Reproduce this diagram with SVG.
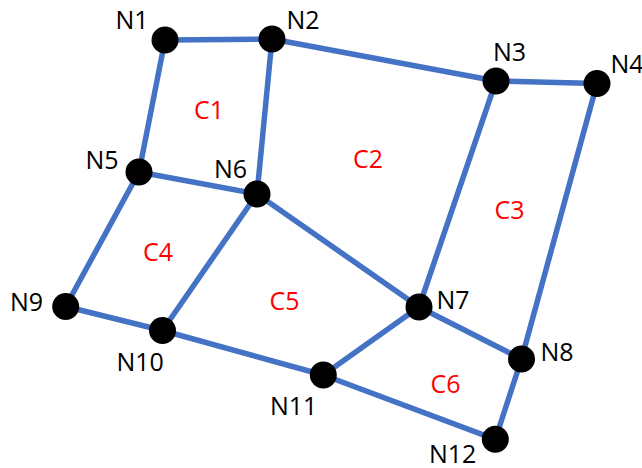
<svg xmlns="http://www.w3.org/2000/svg" width="642" height="468" viewBox="0 0 642 468">
<style>
.e{stroke:#4472C4;stroke-width:5.5;fill:none;stroke-linecap:round}
.n{fill:#000}
.t{font-family:"Open Sans","Liberation Sans",sans-serif;font-size:25px;fill:#000}
.c{font-family:"Open Sans","Liberation Sans",sans-serif;font-size:25px;fill:#FF0000}
</style>
<rect width="642" height="468" fill="#fff"/>
<g id="connectors">
<line class="e" x1="165" y1="40" x2="272" y2="39"/>
<line class="e" x1="272" y1="39" x2="496" y2="81"/>
<line class="e" x1="496" y1="81" x2="597" y2="83.5"/>
<line class="e" x1="165" y1="40" x2="139" y2="172"/>
<line class="e" x1="272" y1="39" x2="257" y2="194"/>
<line class="e" x1="139" y1="172" x2="257" y2="194"/>
<line class="e" x1="496" y1="81" x2="419" y2="307"/>
<line class="e" x1="597" y1="83.5" x2="521.5" y2="359"/>
<line class="e" x1="139" y1="172" x2="65.7" y2="306.5"/>
<line class="e" x1="257" y1="194" x2="162.5" y2="330.5"/>
<line class="e" x1="257" y1="194" x2="419" y2="307"/>
<line class="e" x1="65.7" y1="306.5" x2="162.5" y2="330.5"/>
<line class="e" x1="162.5" y1="330.5" x2="323.3" y2="375"/>
<line class="e" x1="323.3" y1="375" x2="419" y2="307"/>
<line class="e" x1="419" y1="307" x2="521.5" y2="359"/>
<line class="e" x1="323.3" y1="375" x2="495.3" y2="439.3"/>
<line class="e" x1="521.5" y1="359" x2="495.3" y2="439.3"/>
</g>
<g id="N1"><circle class="n" cx="165" cy="40" r="13.5"/><text class="t" x="115.5" y="29.3">N1</text></g>
<g id="N2"><circle class="n" cx="272" cy="39" r="13.5"/><text class="t" x="286.5" y="29.3">N2</text></g>
<g id="N3"><circle class="n" cx="496" cy="81" r="13.5"/><text class="t" x="493" y="61">N3</text></g>
<g id="N4"><circle class="n" cx="597" cy="83.5" r="13.5"/><text class="t" x="610.5" y="73.3">N4</text></g>
<g id="N5"><circle class="n" cx="139" cy="172" r="13.5"/><text class="t" x="85.5" y="169">N5</text></g>
<g id="N6"><circle class="n" cx="257" cy="194" r="13.5"/><text class="t" x="214" y="178.3">N6</text></g>
<g id="N7"><circle class="n" cx="419" cy="307" r="13.5"/><text class="t" x="436.5" y="309.3">N7</text></g>
<g id="N8"><circle class="n" cx="521.5" cy="359" r="13.5"/><text class="t" x="540.5" y="360.7">N8</text></g>
<g id="N9"><circle class="n" cx="65.7" cy="306.5" r="13.5"/><text class="t" x="10" y="310.7">N9</text></g>
<g id="N10"><circle class="n" cx="162.5" cy="330.5" r="13.5"/><text class="t" x="116.5" y="370.7">N10</text></g>
<g id="N11"><circle class="n" cx="323.3" cy="375" r="13.5"/><text class="t" x="270" y="415">N11</text></g>
<g id="N12"><circle class="n" cx="495.3" cy="439.3" r="13.5"/><text class="t" x="429" y="463">N12</text></g>
<g id="cells">
<text class="c" x="194" y="119.3">C1</text>
<text class="c" x="353" y="168.3">C2</text>
<text class="c" x="494.5" y="219.3">C3</text>
<text class="c" x="143" y="260.7">C4</text>
<text class="c" x="269.5" y="310">C5</text>
<text class="c" x="430.5" y="392.7">C6</text>
</g>
</svg>
